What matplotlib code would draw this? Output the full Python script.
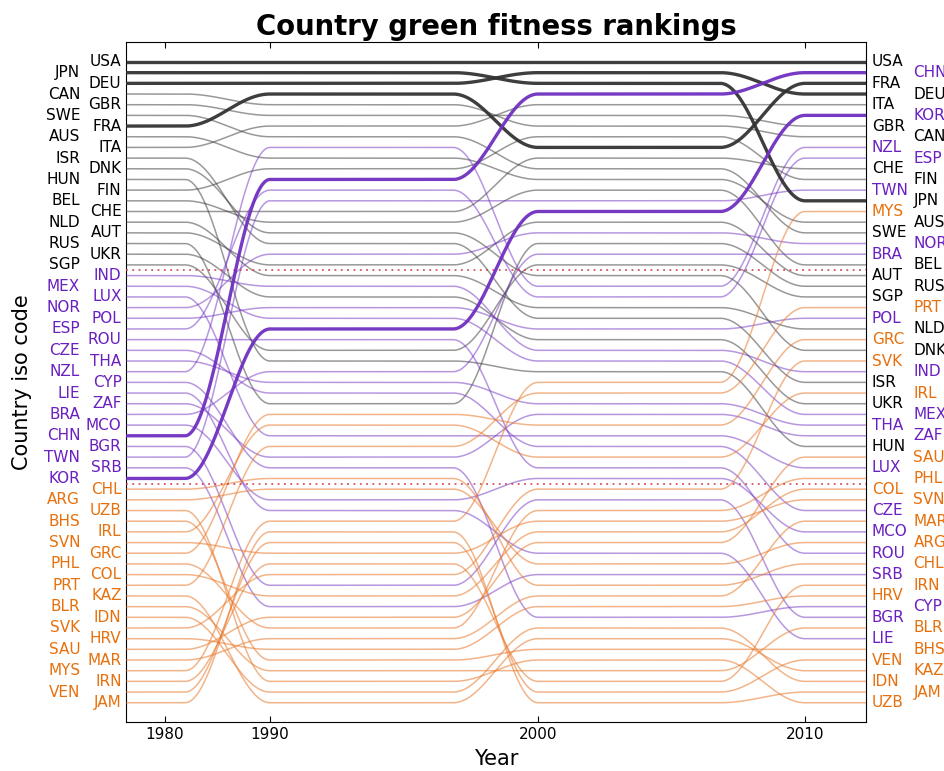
import matplotlib.pyplot as plt
import numpy as np

countries = ['USA', 'JPN', 'DEU', 'CAN', 'GBR', 'SWE', 'FRA', 'AUS', 'ITA', 'ISR',
             'DNK', 'HUN', 'FIN', 'BEL', 'CHE', 'NLD', 'AUT', 'RUS', 'UKR', 'SGP',
             'IND', 'MEX', 'LUX', 'NOR', 'POL', 'ESP', 'ROU', 'CZE', 'THA', 'NZL',
             'CYP', 'LIE', 'ZAF', 'BRA', 'MCO', 'CHN', 'BGR', 'TWN', 'SRB', 'KOR',
             'CHL', 'ARG', 'UZB', 'BHS', 'IRL', 'SVN', 'GRC', 'PHL', 'COL', 'PRT',
             'KAZ', 'BLR', 'IDN', 'SVK', 'HRV', 'SAU', 'MAR', 'MYS', 'IRN', 'VEN', 'JAM']

rank_1980 = list(range(1, 62))
rank_1990 = [1, 2, 3, 5, 6, 8, 4, 10, 7, 18, 17, 29, 11, 16, 15, 21, 20, 33, 23, 28,
             22, 25, 36, 19, 24, 13, 27, 32, 31, 9, 39, 43, 38, 30, 42, 12, 50, 14, 52, 26,
             40, 41, 59, 57, 35, 47, 34, 54, 51, 37, 61, 58, 60, 49, 56, 53, 55, 44, 48, 46, 45]
rank_2000 = [1, 3, 2, 7, 6, 11, 9, 12, 5, 25, 21, 30, 8, 13, 10, 24, 16, 18, 27, 20,
             28, 29, 36, 17, 26, 23, 39, 37, 33, 22, 53, 47, 34, 19, 40, 4, 42, 14, 49, 15,
             50, 48, 57, 56, 38, 44, 35, 43, 45, 32, 55, 58, 54, 41, 52, 46, 51, 31, 59, 60, 61]
rank_2010 = [1, 14, 4, 8, 7, 17, 3, 16, 5, 31, 28, 37, 12, 20, 11, 26, 21, 22, 33, 23,
             30, 34, 39, 18, 25, 10, 47, 43, 35, 9, 52, 55, 36, 19, 45, 2, 53, 13, 49, 6,
             48, 46, 61, 56, 32, 42, 27, 40, 41, 24, 58, 54, 59, 29, 51, 38, 44, 15, 50, 57, 60]

years = [1980, 1990, 2000, 2010]
highlight = ['USA', 'JPN', 'DEU', 'FRA', 'CHN', 'KOR']

# uneven decade spacing on the x axis
anchor_years = [1900, 1980, 1990, 2000, 2010, 2100]
anchor_pos = [-840, 0, 105, 373, 640, 3043]


def fwd(x):
    return np.interp(x, anchor_years, anchor_pos)


def inv(u):
    return np.interp(u, anchor_pos, anchor_years)


line_cols = ['#333333', '#7030c0', '#e8782a']
line_alpha = [0.5, 0.5, 0.55]
text_cols = ['#000000', '#6a1fc0', '#e8700c']


def group(r):
    return 0 if r <= 20 else (1 if r <= 40 else 2)


fig = plt.figure(figsize=(9.44, 7.71), dpi=100)
ax = fig.add_axes([0.1335, 0.0636, 0.7839, 0.8819])
ax.set_xscale('function', functions=(fwd, inv))

x0, x1 = 1976.29, 2012.28
u = np.linspace(fwd(x0), fwd(x1), 800)
width = 85.0

ranks = np.array([rank_1980, rank_1990, rank_2000, rank_2010], dtype=float)
for i, name in enumerate(countries):
    y = np.full_like(u, ranks[0, i])
    for k in range(1, 4):
        end = fwd(years[k])
        t = np.clip((u - (end - width)) / width, 0, 1)
        y += (ranks[k, i] - ranks[k - 1, i]) * (0.5 - 0.5 * np.cos(np.pi * t))
    g = group(rank_1980[i])
    if name in highlight:
        ax.plot(inv(u), y, color=line_cols[g], lw=2.4, alpha=0.95, zorder=5, solid_capstyle='butt')
    else:
        ax.plot(inv(u), y, color=line_cols[g], lw=1.1, alpha=line_alpha[g], zorder=3)

for r in [20.5, 40.5]:
    ax.axhline(r, color='#d04050', ls=(0, (1, 2.5)), lw=1.3, alpha=0.9, zorder=4)

ytr = ax.get_yaxis_transform()
for i, name in enumerate(countries):
    r = rank_1980[i]
    ax.text(-0.006 if r % 2 else -0.062, r, name, transform=ytr, ha='right', va='center',
            fontsize=11, color=text_cols[group(r)], clip_on=False)
    r2 = rank_2010[i]
    ax.text(1.008 if r2 % 2 else 1.064, r2, name, transform=ytr, ha='left', va='center',
            fontsize=11, color=text_cols[group(r)], clip_on=False)

ax.set_xlim(x0, x1)
ax.set_ylim(62.8, -0.87)
ax.set_yticks([])
ax.set_xticks(years)
ax.set_xticklabels([str(y) for y in years])
ax.tick_params(axis='x', direction='in', top=True, labelsize=11, length=4)
ax.set_title('Country green fitness rankings', fontsize=19.8, fontweight='bold', pad=5)
ax.set_xlabel('Year', fontsize=15)
ax.xaxis.set_label_coords(0.5, -0.04)
ax.set_ylabel('Country iso code', fontsize=15)
ax.yaxis.set_label_coords(-0.127, 0.5)

fig.savefig('out.png', dpi=100)
